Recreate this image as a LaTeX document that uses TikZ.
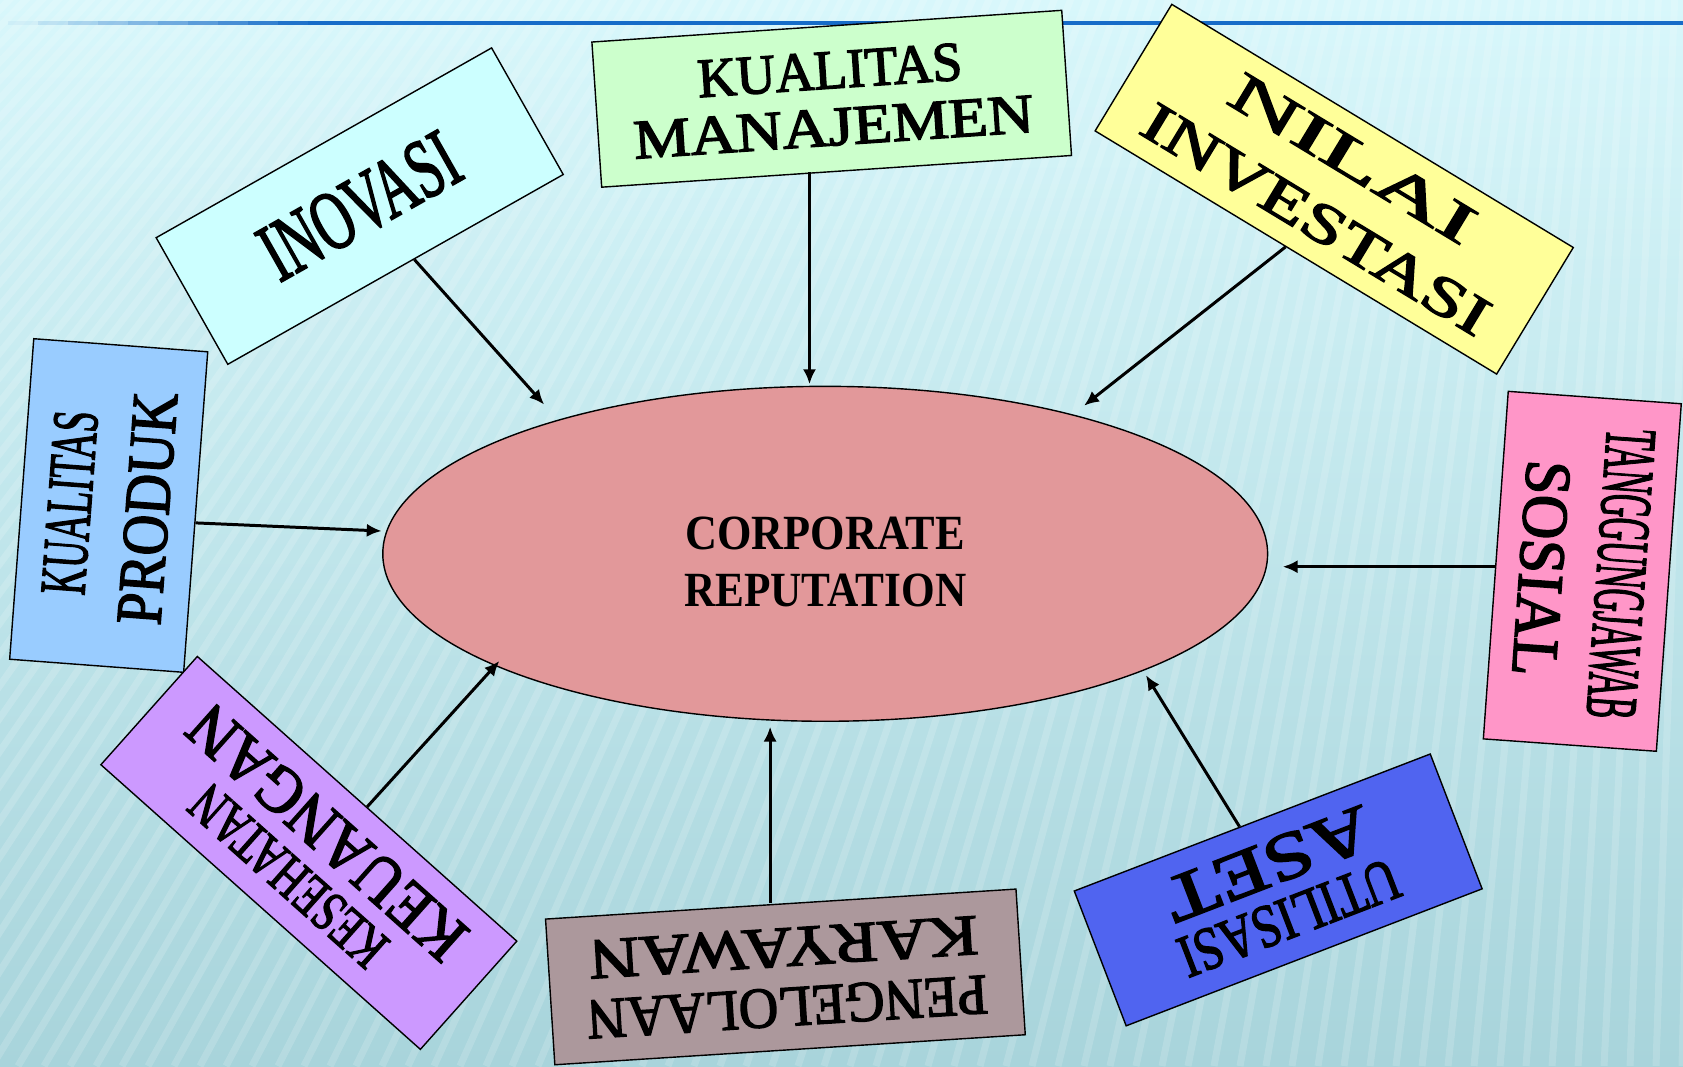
\documentclass[tikz,border=0pt]{standalone}
\usepackage{graphicx}
\usepackage{fontspec}
\setmainfont{Liberation Serif}
\newfontfamily\cardfont{Liberation Serif}[FakeBold=2.5]
\usetikzlibrary{
    shapes.geometric,
    arrows.meta,
    calc,
    positioning
}

\definecolor{bgtop}{RGB}{216,247,251}
\definecolor{bgbot}{RGB}{168,212,219}
\definecolor{topline}{RGB}{22,108,200}
\definecolor{repfill}{RGB}{226,152,154}
\definecolor{inofill}{RGB}{204,255,255}
\definecolor{kmfill}{RGB}{204,255,204}
\definecolor{nilfill}{RGB}{255,255,153}
\definecolor{profill}{RGB}{153,204,255}
\definecolor{tanfill}{RGB}{255,150,200}
\definecolor{utifill}{RGB}{80,100,240}
\definecolor{penfill}{RGB}{172,152,156}
\definecolor{kesfill}{RGB}{204,153,255}

\newcommand{\wline}[3]{\scalebox{#1}[1]{\fontsize{#2}{#2}\selectfont #3}}

\tikzset{
    card/.style={draw, line width=0.8pt, inner sep=0pt, align=center},
    arr/.style={line width=1.7pt, -{Latex[length=8.5pt,width=7.5pt]}}
}

\begin{document}
\begin{tikzpicture}[x=0.02cm, y=-0.02cm]
    \useasboundingbox (0,0) rectangle (1683,1066);
    \shade[top color=bgtop, bottom color=bgbot] (0,0) rectangle (1683,1066);
    \begin{scope}
        \clip (0,0) rectangle (1683,1066);
        \foreach \x in {-1100,-1074,...,1700}
            \draw[white, opacity=0.16, line width=0.14cm] (\x,1066) -- ($(\x,1066)!0.38!(1750,-1800)$);
    \end{scope}
    \foreach \i in {0,...,9}
        \draw[topline, opacity=0.1*\i+0.05, line width=0.08cm] (8+30*\i,23) -- (38+30*\i,23);
    \draw[topline, line width=0.08cm] (308,23) -- (1683,23);

    \node[ellipse, draw, line width=0.8pt, fill=repfill, inner sep=0pt,
          minimum width=17.7cm, minimum height=6.7cm] (rep) at (825.2,553.8) {};
    \node[align=center, font=\bfseries\fontsize{28pt}{32.4pt}\selectfont]
        (reptext) at ([yshift=-4.5pt]rep.center)
        {\wline{0.9}{28pt}{CORPORATE}\\\wline{0.88}{28pt}{REPUTATION}};

    \node[card, fill=inofill, rotate=29.5, minimum width=7.71cm, minimum height=2.91cm,
          font=\cardfont]
        (ino) at (359.7,206.1) {\wline{0.64}{48pt}{INOVASI}};
    \node[card, fill=kmfill, rotate=3.86, minimum width=9.42cm, minimum height=2.91cm,
          font=\cardfont\fontsize{31.6pt}{32.4pt}\selectfont]
        (km) at (831.7,98.75) {\wline{0.97}{31.6pt}{KUALITAS}\\\wline{1.15}{31.6pt}{MANAJEMEN}};
    \node[card, fill=nilfill, rotate=-31.2, minimum width=9.39cm, minimum height=2.96cm,
          font=\cardfont\fontsize{31.9pt}{40.4pt}\selectfont]
        (nil) at (1334.2,189.2) {\wline{1.82}{31.9pt}{NILAI}\\\wline{1.39}{31.9pt}{INVESTASI}};
    \node[card, fill=profill, rotate=85.7, minimum width=6.43cm, minimum height=3.49cm,
          font=\cardfont\fontsize{37pt}{44.4pt}\selectfont]
        (pro) at (108.7,505.5) {\wline{0.575}{37pt}{KUALITAS}\\\wline{0.87}{37pt}{PRODUK}};
    \node[card, fill=tanfill, rotate=-94.1, minimum width=6.97cm, minimum height=3.47cm,
          font=\cardfont\fontsize{37pt}{44pt}\selectfont]
        (tan) at (1582.3,571.3) {\wline{0.45}{41.5pt}{TANGGUNGJAWAB}\\\wline{0.95}{37pt}{SOSIAL}};
    \node[card, fill=utifill, rotate=201.05, minimum width=7.63cm, minimum height=2.89cm,
          font=\cardfont\fontsize{34.5pt}{34pt}\selectfont]
        (uti) at (1278.2,889.9) {\wline{0.8}{34.5pt}{UTILISASI}\\\wline{1.3}{38pt}{ASET}};
    \node[card, fill=penfill, rotate=183.65, minimum width=9.43cm, minimum height=2.92cm,
          font=\cardfont\fontsize{32.8pt}{34pt}\selectfont]
        (pen) at (785.4,976.9) {\wline{0.95}{32.8pt}{PENGELOLAAN}\\\wline{1.21}{32.8pt}{KARYAWAN}};
    \node[card, fill=kesfill, rotate=138.3, minimum width=8.56cm, minimum height=2.9cm,
          font=\cardfont\fontsize{33pt}{34.7pt}\selectfont]
        (kes) at (308.85,852.9) {\wline{0.72}{33pt}{KESEHATAN}\\\wline{0.92}{38pt}{KEUANGAN}};

    \coordinate (tIno) at (544.2,404.6);
    \coordinate (tKM) at (809.5,384.2);
    \coordinate (tNil) at (1084,405.7);
    \coordinate (tPro) at (381.7,531);
    \coordinate (tTan) at (1282.7,566.7);
    \coordinate (tUti) at (1145.9,675.1);
    \coordinate (tPen) at (770.1,726.6);
    \coordinate (tKes) at (499.4,661);

    \draw[arr] ($(ino.south)!0.11!(ino.south east)$) -- (tIno);
    \draw[arr] (tKM |- km.south) -- (tKM);
    \draw[arr] ($(nil.south)!0.05!(nil.south west)$) -- (tNil);
    \draw[arr] ($(pro.south)!0.067!(pro.south west)$) -- (tPro);
    \draw[arr] (tTan -| tan.south) -- (tTan);
    \draw[arr] ($(uti.south)!0.07!(uti.south east)$) -- (tUti);
    \draw[arr] (tPen |- pen.south) -- (tPen);
    \draw[arr] ($(kes.south)!0.06!(kes.south west)$) -- (tKes);
\end{tikzpicture}
\end{document}
